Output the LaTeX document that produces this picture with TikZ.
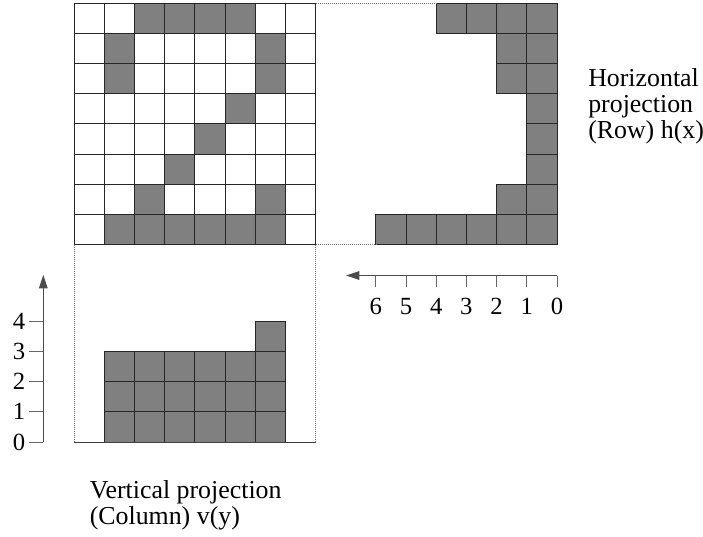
\documentclass[tikz,border=0pt]{standalone}
\usepackage{fontspec}
\setmainfont{Liberation Serif}
\usetikzlibrary{arrows.meta}

\newcommand{\cellsz}{30.2}

\begin{document}
\begin{tikzpicture}[
    x=0.75pt, y=-0.75pt,
    cell/.style={draw=black!85, line width=0.6pt, fill=white},
    ink/.style={cell, fill=black!50},
    guide/.style={densely dotted, line width=0.5pt, black!55},
    base/.style={line width=0.6pt, black!75},
    axis/.style={-{Triangle[length=10pt, width=6.5pt]}, line width=0.6pt, black!70},
    tick/.style={line width=0.6pt, black!60},
    num/.style={font=\fontsize{18.5}{20}\selectfont, inner sep=0pt},
    ann/.style={font=\fontsize{19.4}{19.3}\selectfont, align=left, inner sep=0pt, anchor=north west},
]
\useasboundingbox (0,0) rectangle (703,536);

% corners of the character grid and of the projections
\coordinate (gridNE) at (315.6,3);
\coordinate (gridSW) at (74,244.6);
\coordinate (gridSE) at (315.6,244.6);
\coordinate (rowTop) at (436.2,3);
\coordinate (rowBot) at (375.8,244.6);
\coordinate (colSW) at (74,442);
\coordinate (colSE) at (315.6,442);

% character grid, 8 x 8
\foreach \i in {0,...,7}
  \foreach \j in {0,...,7}
    \draw[cell] (74+\i*\cellsz, 3+\j*\cellsz) rectangle ++(\cellsz,\cellsz);
\foreach \i/\j in {2/0,3/0,4/0,5/0, 1/1,6/1, 1/2,6/2, 5/3, 4/4, 3/5, 2/6,6/6,
                   1/7,2/7,3/7,4/7,5/7,6/7}
  \draw[ink] (74+\i*\cellsz, 3+\j*\cellsz) rectangle ++(\cellsz,\cellsz);

% horizontal projection h(x)
\foreach \j/\n in {0/4, 1/2, 2/2, 3/1, 4/1, 5/1, 6/2, 7/6}
  \foreach \k in {1,...,\n}
    \draw[ink] (557-\k*\cellsz, 3+\j*\cellsz) rectangle ++(\cellsz,\cellsz);

% vertical projection v(y)
\foreach \i/\n in {1/3, 2/3, 3/3, 4/3, 5/3, 6/4}
  \foreach \k in {1,...,\n}
    \draw[ink] (74+\i*\cellsz, 442-\k*\cellsz) rectangle ++(\cellsz,\cellsz);

% guides
\draw[guide] (gridNE) -- (rowTop);
\draw[guide] (gridSE) -- (rowBot);
\draw[guide] (gridSW) -- (colSW);
\draw[guide] (gridSE) -- (colSE);
\draw[base] (colSW) -- (colSE);

% axis of v(y)
\coordinate (vO) at (43.3,442);
\coordinate (vTip) at (43.3,275);
\draw[axis] (vO) -- (vTip);
\foreach \k in {0,...,4} {
  \draw[tick] (28.5,442-\k*\cellsz) -- (43.3,442-\k*\cellsz);
  \node[num, anchor=east] (v\k) at (25.5,442-\k*\cellsz) {\k};
}

% axis of h(x)
\coordinate (hO) at (557,275.5);
\coordinate (hTip) at (346,275.5);
\draw[axis] (hO) -- (hTip);
\foreach \k in {0,...,6} {
  \draw[tick] (557-\k*\cellsz,275.5) -- (557-\k*\cellsz,287);
  \node[num, anchor=base] (h\k) at (557-\k*\cellsz,314.5) {\k};
}

\node[ann] (hlabel) at (588,68.5) {Horizontal\\projection\\(Row) h(x)};
\node[ann] (vlabel) at (89.5,480.5) {Vertical projection\\(Column) v(y)};

\end{tikzpicture}
\end{document}
